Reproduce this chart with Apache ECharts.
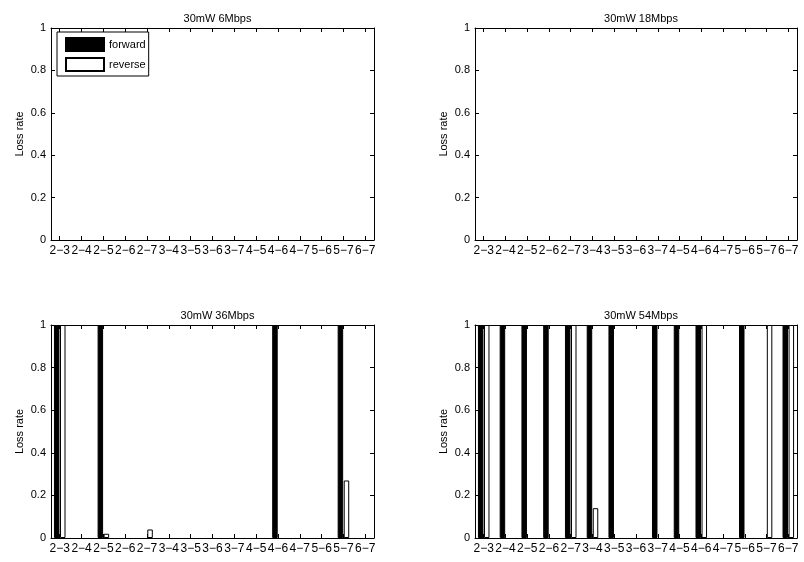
<!DOCTYPE html>
<html>
<head>
<meta charset="utf-8">
<script src="https://cdn.jsdelivr.net/npm/echarts@6/dist/echarts.min.js"></script>
<style>html,body{margin:0;padding:0;background:#fff}#c{width:804px;height:562px}</style>
</head>
<body>
<div id="c"></div>
<script>
const categories = ['2\u22123','2\u22124','2\u22125','2\u22126','2\u22127','3\u22124','3\u22125','3\u22126','3\u22127','4\u22125','4\u22126','4\u22127','5\u22126','5\u22127','6\u22127'];
const titles = ['30mW 6Mbps','30mW 18Mbps','30mW 36Mbps','30mW 54Mbps'];
const yTicks = [0, 0.2, 0.4, 0.6, 0.8, 1];
const forward6  = [0,0,0,0,0,0,0,0,0,0,0,0,0,0,0];
const reverse6  = [0,0,0,0,0,0,0,0,0,0,0,0,0,0,0];
const forward18 = [0,0,0,0,0,0,0,0,0,0,0,0,0,0,0];
const reverse18 = [0,0,0,0,0,0,0,0,0,0,0,0,0,0,0];
const forward36 = [1,0,1,0,0,0,0,0,0,0,1,0,0,1,0];
const reverse36 = [1,0,0.02,0,0.04,0,0,0,0,0,0,0,0,0.27,0];
const forward54 = [1,1,1,1,1,1,1,0,1,1,1,0,1,0,1];
const reverse54 = [1,0,0,0,1,0.14,0,0,0,0,1,0,0,1,1];

const panels = [
  {fwd: forward6, rev: reverse6},
  {fwd: forward18, rev: reverse18},
  {fwd: forward36, rev: reverse36},
  {fwd: forward54, rev: reverse54}
];
const grids = [
  {left: 51, top: 28, width: 323, height: 212},
  {left: 475, top: 28, width: 322, height: 212},
  {left: 51, top: 325, width: 323, height: 213},
  {left: 475, top: 325, width: 322, height: 213}
];
const FONT = 'Liberation Sans, Arial, Helvetica, sans-serif';
const tickPos = categories.map((c, i) => i + 1);

function barData(arr) {
  return arr.map((v, i) => v === 0
    ? {value: [i + 1, v], itemStyle: {borderWidth: 0, opacity: 0}}
    : {value: [i + 1, v]});
}

const xAxes = [], yAxes = [], series = [], titleArr = [];
grids.forEach((g, gi) => {
  titleArr.push({
    text: titles[gi], left: g.left + g.width / 2, textAlign: 'center',
    top: g.top - 20,
    textStyle: {fontFamily: FONT, fontSize: 11, fontWeight: 'normal', color: '#000'}
  });
  const xBase = {
    type: 'value', gridIndex: gi, min: 0.6, max: 15.4,
    splitLine: {show: false},
    axisLine: {show: true, onZero: false, lineStyle: {color: '#000', width: 1}},
    axisTick: {show: true, inside: true, length: 4, customValues: tickPos, lineStyle: {color: '#000'}}
  };
  xAxes.push(Object.assign({}, xBase, {
    position: 'bottom',
    axisLabel: {show: true, customValues: tickPos, color: '#000', fontFamily: FONT, fontSize: 12, margin: 5,
      formatter: v => categories[Math.round(v) - 1] || ''}
  }));
  xAxes.push(Object.assign({}, xBase, {position: 'top', axisLabel: {show: false}}));
  const yBase = {
    type: 'value', gridIndex: gi, min: 0, max: 1, interval: 0.2,
    splitLine: {show: false},
    axisLine: {show: true, onZero: false, lineStyle: {color: '#000', width: 1}},
    axisTick: {show: true, inside: true, length: 4, lineStyle: {color: '#000'}}
  };
  yAxes.push(Object.assign({}, yBase, {
    position: 'left',
    name: 'Loss rate', nameLocation: 'middle', nameGap: 26,
    nameTextStyle: {fontFamily: FONT, fontSize: 11, color: '#000'},
    axisLabel: {show: true, color: '#000', fontFamily: FONT, fontSize: 11, margin: 5}
  }));
  yAxes.push(Object.assign({}, yBase, {position: 'right', axisLabel: {show: false}}));
  const p = panels[gi];
  series.push({
    name: 'forward', type: 'bar', xAxisIndex: 2 * gi, yAxisIndex: 2 * gi,
    barWidth: 5.5, barGap: '10%',
    itemStyle: {color: '#000', borderColor: '#000', borderWidth: 1},
    data: barData(p.fwd)
  });
  series.push({
    name: 'reverse', type: 'bar', xAxisIndex: 2 * gi, yAxisIndex: 2 * gi,
    barWidth: 5.5, barGap: '10%',
    itemStyle: {color: '#fff', borderColor: '#000', borderWidth: 1},
    data: barData(p.rev)
  });
});

const chart = echarts.init(document.getElementById('c'), null, {renderer: 'canvas'});
chart.setOption({
  animation: false,
  backgroundColor: '#fff',
  title: titleArr,
  grid: grids,
  xAxis: xAxes,
  yAxis: yAxes,
  legend: {
    data: ['forward', 'reverse'], orient: 'vertical', left: 57, top: 32,
    itemWidth: 38, itemHeight: 13, itemGap: 5, padding: [5, 3, 4, 8],
    borderColor: '#000', borderWidth: 1, backgroundColor: '#fff',
    icon: 'rect', selectedMode: false,
    textStyle: {fontFamily: FONT, fontSize: 11, color: '#000', padding: [0, 0, 0, 0]}
  },
  series: series
});
</script>
</body>
</html>
